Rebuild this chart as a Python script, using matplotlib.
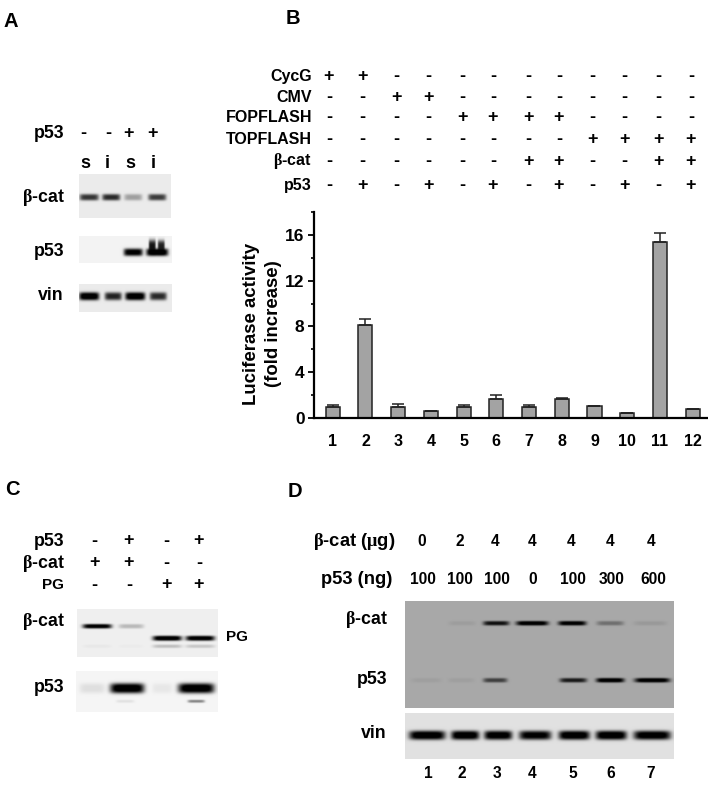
import numpy as np
import matplotlib
matplotlib.use("Agg")
import matplotlib.pyplot as plt

plt.rcParams["font.family"] = "Liberation Sans"
plt.rcParams["font.weight"] = "bold"
plt.rcParams["mathtext.fontset"] = "custom"
plt.rcParams["mathtext.rm"] = "Liberation Serif"
plt.rcParams["mathtext.it"] = "Liberation Serif"
plt.rcParams["mathtext.default"] = "rm"

BCAT = r"$\beta$-cat"

# ---- panel B data
bar_labels = ["1", "2", "3", "4", "5", "6", "7", "8", "9", "10", "11", "12"]
luciferase = [1.0, 8.1, 1.0, 0.6, 1.0, 1.7, 1.0, 1.7, 1.05, 0.45, 15.4, 0.85]
luciferase_err = [0.15, 0.55, 0.25, 0, 0.15, 0.3, 0.15, 0.05, 0, 0, 0.75, 0]
table_rows = ["CycG", "CMV", "FOPFLASH", "TOPFLASH", BCAT, "p53"]
cycg = "++----------"
cmv = "--++--------"
fopflash = "----++++----"
topflash = "--------++++"
bcat_row = "------++--++"
p53_row = "-+-+-+-+-+-+"

# ---- panel A data (band darkness per lane, 0-1)
a_signs = "--++"
a_lanes = ["s", "i", "s", "i"]
a_bcat = [0.68, 0.72, 0.28, 0.65]
a_p53 = [0, 0, 0.92, 1.0]
a_vin = [1.0, 0.75, 1.0, 0.72]

# ---- panel C data
c_p53 = "-+-+"
c_bcat = "++--"
c_pg = "--++"
c_top = [0.95, 0.2, 0, 0]
c_pg_band = [0, 0, 1.0, 0.97]
c_pg_low = [0.03, 0.02, 0.18, 0.15]
c_bottom = [0.08, 1.0, 0.05, 1.0]
c_bottom_low = [0, 0.07, 0, 0.4]

# ---- panel D data
d_bcat_amount = ["0", "2", "4", "4", "4", "4", "4"]
d_p53_amount = ["100", "100", "100", "0", "100", "300", "600"]
d_lane_labels = ["1", "2", "3", "4", "5", "6", "7"]
d_bcat = [0, 0.06, 0.8, 1.0, 0.95, 0.3, 0.08]
d_p53 = [0.05, 0.05, 0.55, 0, 0.75, 1.0, 1.0]
d_vin = [1.0, 1.0, 0.97, 0.92, 1.0, 1.0, 0.97]


fig = plt.figure(figsize=(7.08, 7.88), dpi=100, facecolor="white")

# whole-figure axes in pixel coordinates for the blots and labels
canvas = fig.add_axes([0, 0, 1, 1])
canvas.set_xlim(0, 708)
canvas.set_ylim(788, 0)
canvas.axis("off")


def label(x, y, s, size=12.8, ha="right", **kw):
    canvas.text(x, y, s, fontsize=size, ha=ha, va="center", **kw)


def sign_row(xs, y, signs, size=13):
    for x, s in zip(xs, signs):
        label(x, y, s, size=size, ha="center")


# blot is drawn as a small image: background grey with soft dark bands
def blot(box, bg, bands):
    x0, x1, y0, y1 = box
    xx, yy = np.meshgrid(np.arange(x0, x1, 0.5), np.arange(y0, y1, 0.5))
    img = np.full(xx.shape, float(bg))
    for x, y, w, h, level in bands:
        if level <= 0:
            continue
        shape = np.exp(-np.abs((xx - x) / (w / 2)) ** 6) * np.exp(-np.abs((yy - y) / (h / 2)) ** 3)
        img = img * (1 - np.clip(level * shape * 1.15, 0, 1))
    canvas.imshow(img, extent=[x0, x1, y1, y0], cmap="gray", vmin=0, vmax=1,
                  aspect="auto", interpolation="bilinear", zorder=1)


def lane_bands(xs, y, ws, h, levels):
    return [(x, y, w, h, lv) for x, w, lv in zip(xs, ws, levels)]


# ---- Panel A
label(3, 21, "A", size=14.5, ha="left")
label(64, 133, "p53")
sign_row([83, 108, 129, 152], 133, a_signs, size=13)
for x, s in zip([85, 107, 130, 153], a_lanes):
    label(x, 163, s, size=13, ha="center")
label(65, 197, BCAT)
label(64, 251, "p53")
label(64, 295, "vin")

blot((79, 171, 174, 218), 0.92, lane_bands([89, 111, 133, 157], 197, [19, 18, 18, 18], 6.5, a_bcat))
blot((79, 172, 236, 263), 0.95,
     lane_bands([89, 111, 133, 157], 252, [19, 19, 19, 22], 7.5, a_p53)
     + [(152, 246, 7, 13, 0.8), (161, 246, 7, 12, 0.75)])
blot((79, 172, 284, 312), 0.92, lane_bands([89, 113, 135, 158], 296, [20, 17, 20, 17], 8, a_vin))

# ---- Panel B
label(286, 18, "B", size=14.5, ha="left")
col_x = [329, 362, 396, 428, 462, 493, 528, 559, 592, 624, 658, 691]
row_y = [76, 97, 117, 139, 161, 185]
rows = [cycg, cmv, fopflash, topflash, bcat_row, p53_row]
for y, name, signs in zip(row_y, table_rows, rows):
    label(312, y, name, size=11.5)
    sign_row(col_x, y, signs)

# bar chart sits on its own axes, placed to match the pixel box
left, right, top, bottom = 314.3, 708, 211.7, 418.3
bar_ax = fig.add_axes([left / 708, 1 - bottom / 788, (right - left) / 708, (bottom - top) / 788])
bar_ax.patch.set_alpha(0)
pos = np.arange(1, 13)
bar_ax.bar(pos, luciferase, width=0.43, color="#a3a3a3", edgecolor="#222222", linewidth=1.1,
           yerr=[np.zeros(12), luciferase_err], ecolor="#222222",
           error_kw={"elinewidth": 1.1, "capsize": 4.5, "capthick": 1.1})
bar_ax.set_xlim(0.437, 12.47)
bar_ax.set_ylim(0, 18)
bar_ax.set_yticks([0, 4, 8, 12, 16])
bar_ax.set_yticks([2, 6, 10, 14, 18], minor=True)
bar_ax.set_xticks(pos)
bar_ax.set_xticklabels(bar_labels)
bar_ax.tick_params(axis="y", which="major", length=4, width=1.3, labelsize=12.5, pad=3)
bar_ax.tick_params(axis="y", which="minor", length=2.5, width=1.2)
bar_ax.tick_params(axis="x", length=0, labelsize=11.5, pad=11)
for side in ["top", "right"]:
    bar_ax.spines[side].set_visible(False)
for side in ["left", "bottom"]:
    bar_ax.spines[side].set_linewidth(1.6)
label(252, 324, "Luciferase activity", size=13.4, ha="center", rotation=90)
label(274, 324, "(fold increase)", size=13.4, ha="center", rotation=90)

# ---- Panel C
label(5, 489, "C", size=14.5, ha="left")
c_x = [94, 129, 166, 199]
label(64, 541, "p53")
sign_row(c_x, 541, c_p53)
label(65, 563, BCAT)
sign_row(c_x, 563, c_bcat)
label(64, 585, "PG", size=11)
sign_row(c_x, 585, c_pg)
label(65, 622, BCAT)
label(64, 688, "p53")
label(226, 637, "PG", size=11, ha="left")

c_w = [29, 25, 29, 29]
blot((77, 218, 609, 657), 0.94,
     lane_bands([97, 131, 167, 200], 626, c_w[:2] + [0, 0], 4.5, c_top)
     + lane_bands([97, 131, 167, 200], 638, c_w, 5, c_pg_band)
     + lane_bands([97, 131, 167, 200], 646, c_w, 3.5, c_pg_low))
blot((76, 218, 671, 712), 0.96,
     lane_bands([92, 127, 162, 196], 688, [25, 34, 20, 36], 10, c_bottom)
     + lane_bands([92, 125, 162, 196], 701, [20, 18, 20, 17], 3, c_bottom_low))

# ---- Panel D
label(288, 491, "D", size=14.5, ha="left")
label(395, 542, BCAT + r" ($\mu$g)", size=13.2)
label(392, 580, "p53 (ng)", size=13.2)
for x, s in zip([422, 460, 495, 532, 571, 610, 651], d_bcat_amount):
    label(x, 542, s, size=11.2, ha="center")
for x, s in zip([423, 460, 497, 533, 573, 612, 653], d_p53_amount):
    label(x, 580, s, size=11.2, ha="center")
for x, s in zip([428, 462, 497, 532, 573, 611, 651], d_lane_labels):
    label(x, 773, s, size=11.2, ha="center")
label(388, 620, BCAT)
label(387, 679, "p53")
label(387, 734, "vin")

blot((405, 674, 601, 708), 0.66,
     lane_bands([426, 462, 496, 532, 572, 610, 650], 623, [30, 27, 26, 32, 28, 27, 33], 4.5, d_bcat)
     + lane_bands([426, 461, 495, 533, 573, 610, 652], 680, [30, 26, 24, 0, 27, 28, 35], 4.5, d_p53))
blot((405, 674, 713, 759), 0.88,
     lane_bands([427, 465, 498, 535, 574, 611, 652], 735, [36, 28, 28, 32, 31, 31, 37], 9, d_vin))

canvas.set_xlim(0, 708)
canvas.set_ylim(788, 0)

plt.savefig("out.png", dpi=100)
